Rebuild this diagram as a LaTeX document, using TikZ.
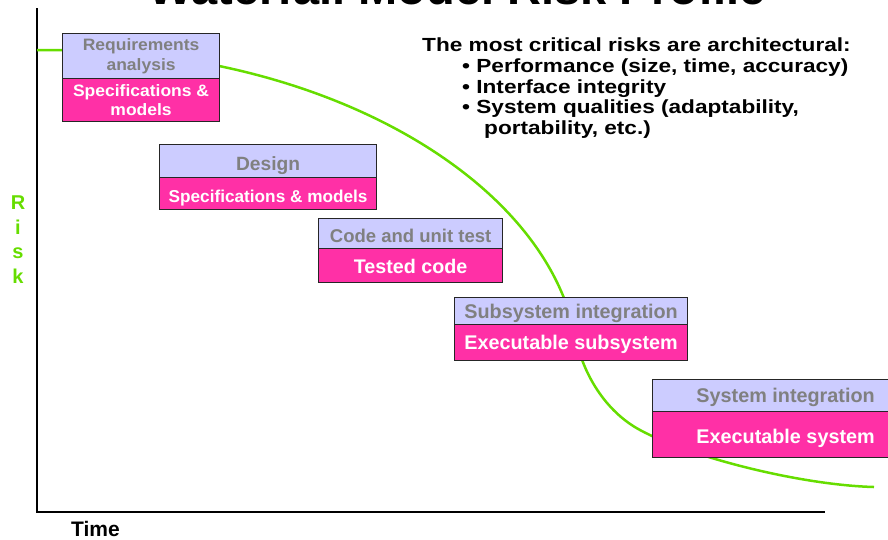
\documentclass[tikz,border=0pt]{standalone}
\usepackage{fontspec}
\setmainfont{Liberation Sans}
\newfontfamily\widefont[FakeStretch=1.19]{Liberation Sans}
\newfontfamily\reqfont[FakeStretch=1.06]{Liberation Sans}
\definecolor{riskgreen}{RGB}{102,221,0}
\definecolor{lav}{RGB}{204,204,255}
\definecolor{hotpink}{RGB}{255,48,166}
\definecolor{txtgray}{RGB}{128,128,128}
\newcommand{\fsz}[1]{\fontsize{#1}{1.15\dimexpr#1pt\relax}\selectfont}
\begin{document}
\begin{tikzpicture}[x=1pt,y=-1pt,
  phasebox/.style={draw=black!85, line width=1.2pt, fill=lav, text=txtgray,
    inner sep=0pt, anchor=north west, align=center},
  prodbox/.style={phasebox, fill=hotpink, text=white},
  capc/.style={text height=#1, text depth=0pt},
  riskline/.style={draw=riskgreen, line width=2.5pt},
  axisline/.style={draw=black, line width=2.5pt},
  bullettext/.style={anchor=base west, inner sep=0pt, font=\widefont\bfseries\fsz{19}}
]
\useasboundingbox (0,0) rectangle (888,539);
\clip (0,0) rectangle (888,539);

% title (only lower part visible)
\node[anchor=base, inner sep=0pt, font=\bfseries\fsz{47}] (title) at (457.5,4) {Waterfall Model Risk Profile};

% axes
\coordinate (ytop) at (37,8);
\coordinate (origin) at (37,512);
\coordinate (xend) at (825,512);
\draw[axisline] (ytop) -- (origin) -- (xend);

% risk curve
\coordinate (rstart) at (37,50);
\coordinate (r0) at (62,50);
\coordinate (rinfl) at (575,335);
\coordinate (rbend) at (640,430);
\coordinate (rend) at (874,487);
\draw[riskline] (rstart) -- (r0)
  .. controls (318,50) and (543,175) .. (rinfl)
  .. controls (584,380) and (610,414) .. (rbend)
  .. controls (690,457) and (800,485) .. (rend);

% boxes
\node[phasebox, minimum width=157pt, minimum height=45pt, font=\reqfont\bfseries\fontsize{16.5}{19.5}\selectfont] (req) at (62,33) {Requirements\\analysis};
\node[prodbox, minimum width=157pt, minimum height=43pt, font=\reqfont\bfseries\fontsize{16.5}{18.5}\selectfont] (reqp) at (62,78) {Specifications \&\\models};

\node[phasebox, minimum width=217pt, minimum height=33pt, font=\bfseries\fsz{19.2}, capc=19pt] (des) at (159,144) {Design};
\node[prodbox, minimum width=217pt, minimum height=32pt, font=\bfseries\fsz{17.2}, capc=17pt] (desp) at (159,177) {Specifications \& models};

\node[phasebox, minimum width=184pt, minimum height=30pt, font=\bfseries\fsz{18.5}, capc=18pt] (code) at (318,218) {Code and unit test};
\node[prodbox, minimum width=184pt, minimum height=34pt, font=\bfseries\fsz{19.7}, capc=16pt] (codep) at (318,248) {Tested code};

\node[phasebox, minimum width=233pt, minimum height=27pt, font=\bfseries\fsz{19.8}, capc=14.2pt] (sub) at (454,297) {Subsystem integration};
\node[prodbox, minimum width=233pt, minimum height=36pt, font=\bfseries\fsz{19.8}, capc=14.2pt] (subp) at (454,324) {Executable subsystem};

\node[phasebox, minimum width=266pt, minimum height=32pt, font=\bfseries\fsz{19.8}, capc=14.2pt] (sys) at (652,379) {System integration};
\node[prodbox, minimum width=266pt, minimum height=46pt, font=\bfseries\fsz{19.8}, capc=17pt] (sysp) at (652,411) {Executable system};

% critical risks text
\node[bullettext] (crit) at (422,51) {The most critical risks are architectural:};
\node[bullettext] (perf) at (462,72) {• Performance (size, time, accuracy)};
\node[bullettext] (intf) at (462,93) {• Interface integrity};
\node[bullettext] (qual) at (462,113) {• System qualities (adaptability,};
\node[bullettext] (port) at (484,134) {portability, etc.)};

% axis labels
\node[anchor=north, inner sep=0pt, text=riskgreen, align=center,
  font=\bfseries\fontsize{20}{24.5}\selectfont] (risk) at (18,196) {R\\i\\s\\k};
\node[anchor=base west, inner sep=0pt, font=\bfseries\fsz{21}] (time) at (71,536) {Time};
\end{tikzpicture}
\end{document}
